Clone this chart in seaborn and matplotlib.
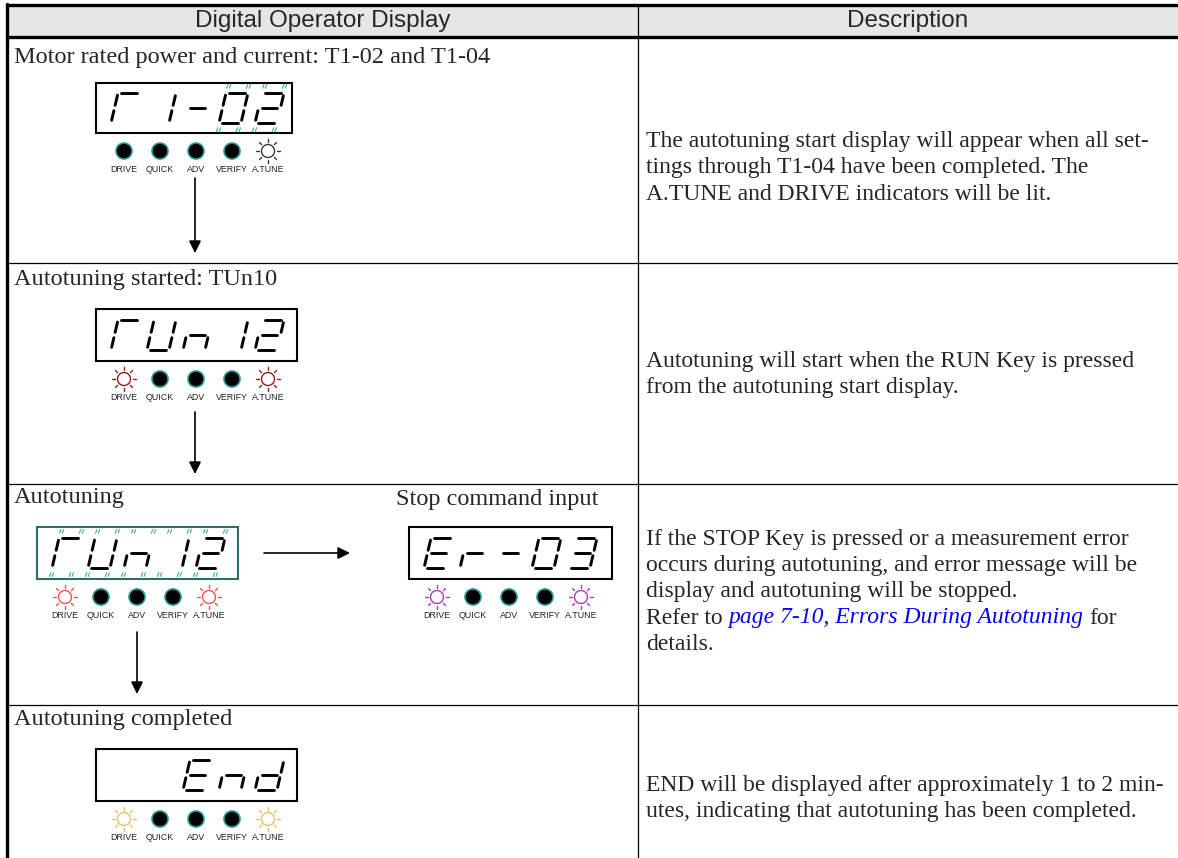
import numpy as np
import seaborn as sns
import matplotlib.pyplot as plt
from matplotlib.patches import Rectangle, Circle

sns.set_style("white")
plt.rcParams['font.family'] = ['Liberation Serif', 'DejaVu Serif']

# ---- table content ----
header_labels = ['Digital Operator Display', 'Description']
step_titles = ['Motor rated power and current: T1-02 and T1-04',
               'Autotuning started: TUn10',
               'Autotuning',
               'Autotuning completed']
side_title = 'Stop command input'

# what each operator display shows (5 digit positions)
display_text = ['T1-02', 'TUn12', 'TUn12', 'Er-03', '  End']
blink_digits = [[3, 4], [], [0, 1, 2, 3, 4], [], []]
led_names = ['DRIVE', 'QUICK', 'ADV', 'VERIFY', 'A.TUNE']
led_states = [[0, 0, 0, 0, 1],
              [1, 0, 0, 0, 1],
              [1, 0, 0, 0, 1],
              [1, 0, 0, 0, 1],
              [1, 0, 0, 0, 1]]
lit_colors = ['#3a3a3a', '#8e1c1c', '#ff4d4d', '#b23ab8', '#e8bd6c']
frame_colors = ['black', 'black', '#2d6e6a', 'black', 'black']

desc_lines = [
    ['The autotuning start display will appear when all set-',
     'tings through T1-04 have been completed. The',
     'A.TUNE and DRIVE indicators will be lit.'],
    ['Autotuning will start when the RUN Key is pressed',
     'from the autotuning start display.'],
    ['If the STOP Key is pressed or a measurement error',
     'occurs during autotuning, and error message will be',
     'display and autotuning will be stopped.',
     None,
     'details.'],
    ['END will be displayed after approximately 1 to 2 min-',
     'utes, indicating that autotuning has been completed.'],
]
link_before = 'Refer to'
link_text = 'page 7-10, Errors During Autotuning'
link_after = 'for'

# 7 segment layout
SEG_CHARS = {'T': 'aef', '1': 'bc', '-': 'g', '0': 'abcdef', '2': 'abged',
             'U': 'bcdef', 'n': 'ceg', 'E': 'adefg', 'r': 'eg', '3': 'abcdg',
             'd': 'bcdeg', ' ': ''}
SEG_POS = {'a': ((0.12, 0), (0.85, 0)), 'b': ((1, 0.09), (1, 0.41)),
           'c': ((1, 0.59), (1, 0.91)), 'd': ((0.15, 1), (0.85, 1)),
           'e': ((0, 0.59), (0, 0.91)), 'f': ((0, 0.07), (0, 0.41)),
           'g': ((0.18, 0.5), (0.82, 0.5))}

W, H = 1178, 858
fig = plt.figure(figsize=(W / 100, H / 100), dpi=100)
ax = fig.add_axes([0, 0, 1, 1])
ax.set_xlim(0, W)
ax.set_ylim(H, 0)
ax.axis('off')

col_x = 638
row_y = [37, 263, 484, 705]

# header band and grid
ax.add_patch(Rectangle((7, 5), W, row_y[0] - 5, facecolor='#e6e6e6', edgecolor='none'))
ax.plot([7, W], [5, 5], color='black', lw=2.4)
ax.plot([7, W], [row_y[0], row_y[0]], color='black', lw=2.4)
ax.plot([7, 7], [4, H], color='black', lw=2.4)
ax.plot([col_x, col_x], [5, H], color='black', lw=0.9)
for y in row_y[1:]:
    ax.plot([7, W], [y, y], color='black', lw=0.9)

ax.text((7 + col_x) / 2, 21, header_labels[0], ha='center', va='center',
        fontsize=17.5, family='Liberation Sans')
ax.text((col_x + W) / 2, 21, header_labels[1], ha='center', va='center',
        fontsize=17.5, family='Liberation Sans')

# step titles
title_y = [58, 280, 498, 720]
for t, y in zip(step_titles, title_y):
    ax.text(14, y, t, ha='left', va='center', fontsize=17.5)
ax.text(396, 500, side_title, ha='left', va='center', fontsize=17.5)


def draw_display(x0, y0, w, h, text, blink, states, lit, frame):
    ax.add_patch(Rectangle((x0, y0), w, h, facecolor='white', edgecolor=frame, lw=1.5))
    dw, dh, sl = 22, 30, 7
    for i, ch in enumerate(text):
        dx = x0 + 15 + i * 36
        dy = y0 + (h - dh) / 2
        for s in SEG_CHARS[ch]:
            (u1, v1), (u2, v2) = SEG_POS[s]
            xs = [dx + u1 * dw + (1 - v1) * sl, dx + u2 * dw + (1 - v2) * sl]
            ys = [dy + v1 * dh, dy + v2 * dh]
            ax.plot(xs, ys, color='black', lw=2.1, solid_capstyle='round')
        if i in blink:
            for u, v in [(0.05, -0.22), (0.95, -0.22), (0.05, 1.22), (0.95, 1.22)]:
                bx = dx + u * dw + (1 - v) * sl
                by = dy + v * dh
                for k in (-1.4, 1.4):
                    ax.plot([bx + k - 0.7, bx + k + 0.7], [by + 1.8, by - 1.8],
                            color='#3aa6a6', lw=0.8)
    # indicator lamps
    ly = y0 + h + 18
    for j, name in enumerate(led_names):
        lx = x0 + 28 + j * 36
        if states[j]:
            ax.add_patch(Circle((lx, ly), 6.5, facecolor='white', edgecolor=lit, lw=1.0))
            for a in np.arange(8) * np.pi / 4:
                ax.plot([lx + 9 * np.cos(a), lx + 12 * np.cos(a)],
                        [ly + 9 * np.sin(a), ly + 12 * np.sin(a)], color=lit, lw=1.0)
        else:
            ax.add_patch(Circle((lx, ly), 8, facecolor='black', edgecolor='#2a9a9a', lw=1.2))
        ax.text(lx, ly + 18, name, ha='center', va='center', fontsize=6.4,
                family='Liberation Sans', color='#222222')


boxes = [(96, 83, 196, 50), (96, 309, 201, 52), (37, 527, 201, 52),
         (409, 527, 203, 52), (96, 749, 201, 52)]
for k, (bx, by, bw, bh) in enumerate(boxes):
    draw_display(bx, by, bw, bh, display_text[k], blink_digits[k],
                 led_states[k], lit_colors[k], frame_colors[k])

# flow arrows
arrows = [((195, 178), (195, 253)), ((195, 412), (195, 474)),
          ((137, 632), (137, 694)), ((264, 553), (350, 553))]
for (x1, y1), (x2, y2) in arrows:
    ax.annotate('', xy=(x2, y2), xytext=(x1, y1),
                arrowprops=dict(arrowstyle='-|>', color='black', lw=1.2,
                                mutation_scale=18, shrinkA=0, shrinkB=0))

# description column
desc_y = [[142, 168, 194], [362, 388], [540, 566, 592, 618, 644], [786, 812]]
tx = 646
for lines, ys in zip(desc_lines, desc_y):
    for line, y in zip(lines, ys):
        if line is not None:
            ax.text(tx, y, line, ha='left', va='center', fontsize=17)

# line with the blue italic reference
fig.canvas.draw()
r = fig.canvas.get_renderer()
inv = ax.transData.inverted()
space = 0.25 * 17 * 100 / 72
ly = desc_y[2][3]
t1 = ax.text(tx, ly, link_before, ha='left', va='center', fontsize=17)
x1 = inv.transform((t1.get_window_extent(r).x1, 0))[0] + space
t2 = ax.text(x1, ly, link_text, ha='left', va='center', fontsize=17,
             style='italic', color='#0000ff')
x2 = inv.transform((t2.get_window_extent(r).x1, 0))[0] + space
ax.text(x2, ly, link_after, ha='left', va='center', fontsize=17)

fig.savefig('out.png', dpi=100)
